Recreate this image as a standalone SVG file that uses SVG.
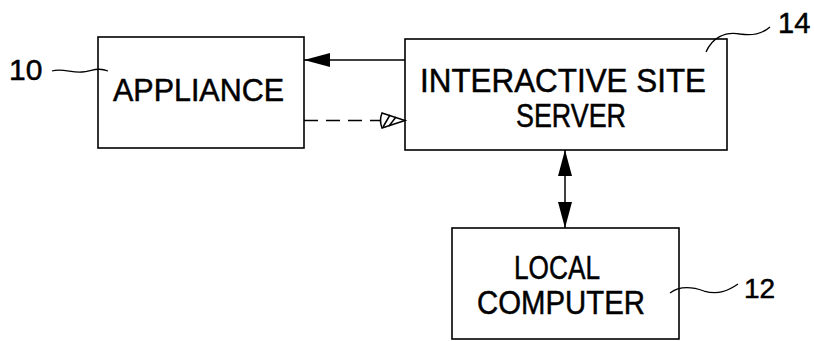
<svg xmlns="http://www.w3.org/2000/svg" width="814" height="341" viewBox="0 0 814 341">
<style>
.box{fill:#fff;stroke:#000;stroke-width:1.6}
.lbl{font-family:"Liberation Sans",Arial,sans-serif;fill:#000;stroke:#000;stroke-width:0.5}
.ln{fill:none;stroke:#000;stroke-width:1.5}
.lead{fill:none;stroke:#000;stroke-width:1.3}
</style>
<defs>
<marker id="fill" viewBox="0 0 26 16" refX="26" refY="8" markerWidth="26" markerHeight="16" markerUnits="userSpaceOnUse" orient="auto-start-reverse">
<path d="M0,1 L26,8 L0,15 Z" fill="#000"/>
</marker>
</defs>
<rect width="814" height="341" fill="#fff"/>
<g id="appliance">
<rect class="box" x="98" y="37" width="206" height="111"/>
<text class="lbl" x="113" y="101" font-size="32" textLength="171" lengthAdjust="spacingAndGlyphs">APPLIANCE</text>
</g>
<g id="server">
<rect class="box" x="405" y="39" width="322" height="111"/>
<text class="lbl" x="420" y="92" font-size="34" textLength="286" lengthAdjust="spacingAndGlyphs">INTERACTIVE SITE</text>
<text class="lbl" x="516" y="127" font-size="33" textLength="110" lengthAdjust="spacingAndGlyphs">SERVER</text>
</g>
<g id="local">
<rect class="box" x="452" y="228" width="227" height="111"/>
<text class="lbl" x="514" y="279" font-size="34" textLength="86" lengthAdjust="spacingAndGlyphs">LOCAL</text>
<text class="lbl" x="477" y="314" font-size="34" textLength="168" lengthAdjust="spacingAndGlyphs">COMPUTER</text>
</g>
<g id="refs">
<text class="lbl" x="9" y="80" font-size="30">10</text>
<path class="lead" d="M52,71 C62,68 72,73 82,72 C92,71 98,67 108,71"/>
<text class="lbl" x="778" y="33" font-size="29">14</text>
<path class="lead" d="M706,52 C712,38 725,31 740,34 C752,36 762,34 770,27"/>
<text class="lbl" x="744" y="298" font-size="28">12</text>
<path class="lead" d="M670,293 C678,287 690,286 704,291 C718,295 728,291 738,284"/>
</g>
<g id="connectors">
<line class="ln" x1="405" y1="60" x2="304" y2="60" marker-end="url(#fill)"/>
<line class="ln" x1="304" y1="120.5" x2="382" y2="120.5" stroke-dasharray="14,8"/>
<g id="hatch-head">
<path d="M382,113 L405,120.5 L382,128 Q379,120.5 382,113 Z" fill="#fff" stroke="#000" stroke-width="1.5"/>
<line class="ln" x1="383" y1="127" x2="390" y2="115"/>
<line class="ln" x1="389" y1="126" x2="396" y2="117"/>
</g>
<line class="ln" x1="565" y1="150" x2="565" y2="228" marker-start="url(#fill)" marker-end="url(#fill)"/>
</g>
</svg>
